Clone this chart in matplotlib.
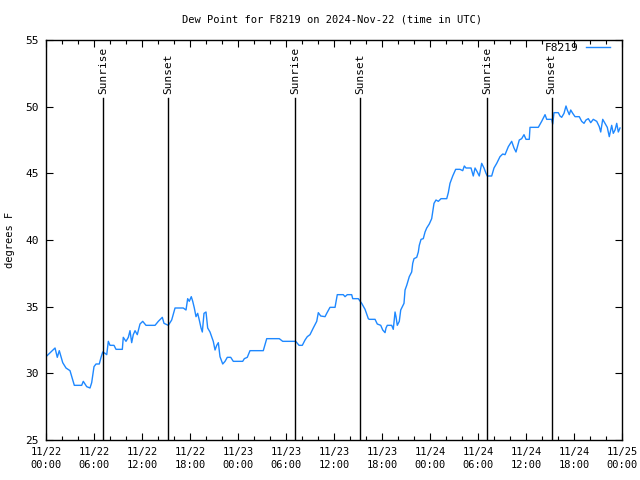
import matplotlib
matplotlib.use("Agg")
import matplotlib.pyplot as plt
from matplotlib.ticker import MultipleLocator

# hours since 2024-11-22 00:00 UTC
hours = [0.09, 1.13, 1.41, 1.66, 2.09, 2.5, 3.0, 3.54, 4.46, 4.66, 5.09, 5.5, 5.71, 6.0, 6.25,
         6.66, 6.88, 7.09, 7.38, 7.59, 7.79, 8.0, 8.5, 8.75, 9.54, 9.66, 10.0, 10.29, 10.5, 10.71,
         10.91, 11.13, 11.41, 11.75, 12.09, 12.5, 13.63, 14.04, 14.54, 14.75, 15.29, 15.71, 16.13,
         17.16, 17.5, 17.71, 17.91, 18.16, 18.34, 18.54, 18.75, 18.96, 19.16, 19.38, 19.54, 19.75,
         20.0, 20.21, 20.5, 20.91, 21.13, 21.34, 21.54, 21.75, 22.09, 22.38, 22.66, 23.09, 23.41,
         24.59, 24.79, 25.16, 25.5, 27.16, 27.59, 29.16, 29.59, 31.21, 31.63, 32.04, 32.38, 32.66,
         33.0, 33.41, 33.84, 34.04, 34.34, 34.88, 35.09, 35.5, 36.13, 36.41, 37.16, 37.38, 37.66,
         38.21, 38.34, 39.04, 39.46, 39.88, 40.29, 40.41, 41.13, 41.41, 41.84, 42.09, 42.38, 42.5,
         42.66, 43.21, 43.41, 43.63, 43.75, 43.91, 44.16, 44.34, 44.59, 44.75, 44.88, 45.09, 45.41,
         45.71, 45.84, 46.0, 46.34, 46.54, 46.66, 46.88, 47.16, 47.38, 47.59, 47.91, 48.21, 48.34,
         48.5, 48.75, 49.04, 49.38, 50.09, 50.29, 50.5, 50.84, 51.21, 51.75, 52.09, 52.29, 52.5,
         53.13, 53.41, 53.63, 53.91, 54.16, 54.46, 54.75, 55.0, 55.16, 55.71, 56.0, 56.34, 56.75,
         57.09, 57.38, 57.79, 58.21, 58.5, 58.75, 59.16, 59.46, 59.75, 60.0, 60.41, 60.5, 61.54,
         61.96, 62.38, 62.59, 63.21, 63.34, 63.5, 64.04, 64.25, 64.46, 64.75, 65.0, 65.16, 65.41,
         65.59, 65.84, 66.13, 66.66, 66.96, 67.25, 67.5, 67.79, 68.09, 68.41, 68.84, 69.16, 69.34,
         69.59, 69.88, 70.16, 70.41, 70.71, 70.91, 71.13, 71.34, 71.54, 71.75]
dewpoint = [31.3, 31.9, 31.2, 31.7, 30.8, 30.4, 30.2, 29.1, 29.1, 29.4, 29.0, 28.9, 29.3, 30.5, 30.7,
            30.7, 31.2, 31.6, 31.5, 31.4, 32.4, 32.1, 32.1, 31.8, 31.8, 32.7, 32.4, 32.7, 33.2, 32.3,
            32.9, 33.2, 32.9, 33.7, 33.9, 33.6, 33.6, 33.9, 34.2, 33.75, 33.6, 34.0, 34.9,
            34.9, 34.75, 35.6, 35.4, 35.75, 35.4, 34.9, 34.25, 34.5, 34.0, 33.4, 33.1, 34.5,
            34.6, 33.4, 33.1, 32.4, 31.75, 32.1, 32.3, 31.25, 30.7, 30.9, 31.2, 31.2, 30.9,
            30.9, 31.1, 31.2, 31.7, 31.7, 32.6, 32.6, 32.4, 32.4, 32.1, 32.1, 32.5, 32.75,
            32.9, 33.4, 33.9, 34.55, 34.3, 34.25, 34.5, 34.95, 34.95, 35.9, 35.9, 35.75, 35.9,
            35.9, 35.6, 35.6, 35.25, 34.8, 34.1, 34.05, 34.05, 33.7, 33.6, 33.25, 33.05, 33.4,
            33.6, 33.6, 33.3, 34.6, 34.25, 33.6, 33.9, 34.75, 35.05, 35.25, 36.25, 36.6, 37.25,
            37.6, 38.25, 38.6, 38.7, 39.1, 39.6, 40.05, 40.1, 40.6, 40.9, 41.2, 41.6, 42.1,
            42.75, 43.0, 42.9, 43.1, 43.1, 43.55, 44.25, 44.8, 45.3, 45.3, 45.2, 45.55, 45.4,
            45.4, 44.8, 45.4, 45.1, 44.8, 45.75, 45.4, 45.0, 44.8, 44.8, 45.4, 45.75, 46.25,
            46.45, 46.4, 47.0, 47.4, 46.9, 46.6, 47.5, 47.6, 47.9, 47.55, 47.55, 48.45, 48.45,
            48.9, 49.4, 49.05, 49.05, 48.7, 49.55, 49.55, 49.3, 49.2, 49.5, 50.05, 49.75, 49.4,
            49.75, 49.5, 49.25, 49.25, 48.9, 48.75, 49.0, 49.1, 48.8, 49.05, 48.9, 48.5, 48.1,
            49.05, 48.75, 48.45, 47.75, 48.6, 48.0, 48.25, 48.75, 48.1, 48.4]

sunrise_hours = [7.125, 31.125, 55.125]
sunset_hours = [15.25, 39.25, 63.2]

tick_hours = [0, 6, 12, 18, 24, 30, 36, 42, 48, 54, 60, 66, 72]
tick_labels = ["11/22\n00:00", "11/22\n06:00", "11/22\n12:00", "11/22\n18:00",
               "11/23\n00:00", "11/23\n06:00", "11/23\n12:00", "11/23\n18:00",
               "11/24\n00:00", "11/24\n06:00", "11/24\n12:00", "11/24\n18:00",
               "11/25\n00:00"]
y_ticks = [25, 30, 35, 40, 45, 50, 55]

FONT = "DejaVu Sans Mono"
FS = 7.5

fig = plt.figure(figsize=(6.4, 4.8), dpi=100)
ax = fig.add_axes([46/640, 1 - 440/480, 576/640, 400/480])

ax.plot(hours, dewpoint, color="#1e88ff", lw=1.0, label="F8219")

line_top = 50.65
label_y = 50.95
for h in sunrise_hours:
    ax.plot([h, h], [25, line_top], color="black", lw=1.0)
    ax.text(h, label_y, "Sunrise", rotation=90, ha="center", va="bottom",
            family=FONT, fontsize=FS + 0.5)
for h in sunset_hours:
    ax.plot([h, h], [25, line_top], color="black", lw=1.0)
    ax.text(h, label_y, "Sunset", rotation=90, ha="center", va="bottom",
            family=FONT, fontsize=FS + 0.5)

ax.set_xlim(0, 72)
ax.set_ylim(25, 55)
ax.set_xticks(tick_hours)
ax.set_xticklabels(tick_labels, family=FONT, fontsize=FS, linespacing=1.35)
ax.xaxis.set_minor_locator(MultipleLocator(2))
ax.set_yticks(y_ticks)
ax.set_yticklabels([str(v) for v in y_ticks], family=FONT, fontsize=FS + 0.5)
ax.tick_params(which="both", direction="in", top=True, right=True, color="black")
ax.tick_params(which="major", length=5, width=0.8, pad=5)
ax.tick_params(which="minor", length=3, width=0.8)
for s in ax.spines.values():
    s.set_linewidth(1.0)

fig.text(10/640, 1 - 240/480, "degrees F", rotation=90, ha="center", va="center",
         family=FONT, fontsize=FS)
fig.text(332/640, 1 - 20/480, "Dew Point for F8219 on 2024-Nov-22 (time in UTC)",
         ha="center", va="center", family=FONT, fontsize=FS)

leg = ax.legend(loc="center right", frameon=False, markerfirst=False,
                prop={"family": FONT, "size": FS + 0.5}, handlelength=2.2,
                bbox_to_anchor=(610/640, 1 - 48/480), bbox_transform=fig.transFigure,
                borderpad=0, borderaxespad=0, handletextpad=0.6)

fig.savefig("out.png", dpi=100)
